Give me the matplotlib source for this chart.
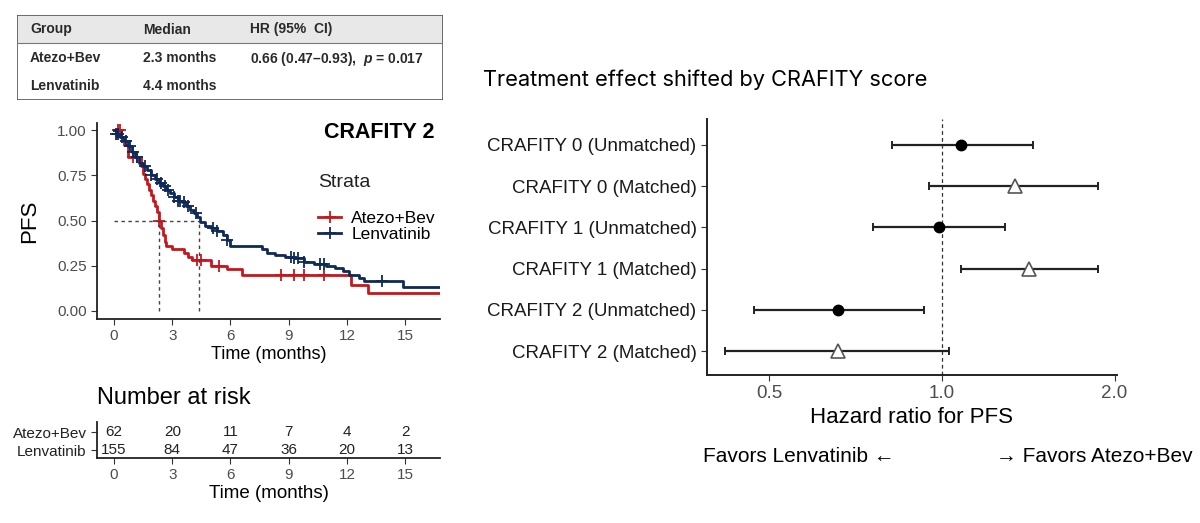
import numpy as np
import matplotlib
matplotlib.use('Agg')
import matplotlib.pyplot as plt
from matplotlib.lines import Line2D
from matplotlib.patches import Rectangle
from matplotlib.ticker import FixedLocator, NullLocator

plt.rcParams['font.family'] = ['Liberation Sans', 'DejaVu Sans']
plt.rcParams['mathtext.fontset'] = 'custom'
plt.rcParams['mathtext.it'] = 'Liberation Sans:italic:bold'

# ---- data ----
groups = ['Atezo+Bev', 'Lenvatinib']
medians = ['2.3 months', '4.4 months']
hr_text = '0.66 (0.47\u20130.93),  $p$ = 0.017'
median_time = [2.3, 4.4]

# Kaplan-Meier steps (time of drop, survival after drop)
red_t = [0.35, 0.5, 0.7, 1.4, 1.5, 1.6, 1.7, 1.8, 1.9, 2.0, 2.1, 2.2, 2.3, 2.4, 2.5,
         2.6, 2.7, 3.0, 3.6, 3.8, 4.0, 5.0, 5.8, 6.6, 12.2, 13.1]
red_s = [0.96, 0.92, 0.85, 0.80, 0.76, 0.73, 0.70, 0.67, 0.64, 0.61, 0.58, 0.55, 0.50, 0.46, 0.42,
         0.38, 0.36, 0.34, 0.32, 0.30, 0.28, 0.25, 0.23, 0.20, 0.145, 0.10]
blue_t = [0.1, 0.3, 0.5, 0.7, 0.9, 1.1, 1.3, 1.5, 1.7, 1.9, 2.1, 2.3, 2.5, 2.7, 2.9, 3.1, 3.3,
          3.5, 3.7, 3.9, 4.1, 4.3, 4.45, 4.7, 5.0, 5.3, 5.6, 5.8, 6.0, 7.6, 7.9, 8.3, 8.8,
          9.3, 9.8, 10.3, 10.9, 11.4, 11.8, 12.1, 12.6, 12.9, 14.9]
blue_s = [0.98, 0.96, 0.94, 0.91, 0.88, 0.85, 0.82, 0.80, 0.78, 0.75, 0.73, 0.71, 0.69, 0.67,
          0.65, 0.63, 0.61, 0.60, 0.58, 0.56, 0.54, 0.52, 0.49, 0.47, 0.46, 0.44, 0.42, 0.39,
          0.36, 0.34, 0.32, 0.31, 0.30, 0.29, 0.27, 0.26, 0.25, 0.24, 0.22, 0.20, 0.18, 0.166,
          0.134]
red_cens = [0.2, 0.3, 1.0, 1.2, 2.3, 4.3, 4.5, 5.4, 8.6, 9.3, 9.8, 10.8]
blue_cens = [0.1, 0.2, 0.4, 0.6, 0.8, 1.0, 1.2, 1.6, 1.9, 2.2, 2.4, 2.6, 2.8, 3.1, 3.3, 3.4,
             3.6, 3.8, 4.2, 5.1, 5.3, 5.8, 9.1, 9.3, 9.5, 9.8, 10.6, 10.8, 13.8]

risk_times = [0, 3, 6, 9, 12, 15]
risk_atezo = [62, 20, 11, 7, 4, 2]
risk_lenva = [155, 84, 47, 36, 20, 13]

# forest plot
forest_labels = ['CRAFITY 0 (Unmatched)', 'CRAFITY 0 (Matched)', 'CRAFITY 1 (Unmatched)',
                 'CRAFITY 1 (Matched)', 'CRAFITY 2 (Unmatched)', 'CRAFITY 2 (Matched)']
hr = [1.08, 1.34, 0.99, 1.42, 0.66, 0.66]
hr_lo = [0.82, 0.95, 0.76, 1.08, 0.47, 0.42]
hr_hi = [1.44, 1.87, 1.29, 1.87, 0.93, 1.03]
matched = [False, True, False, True, False, True]

RED = '#c8161d'
NAVY = '#0e2a5a'
W, H = 1200, 523


def box(x0, y0, x1, y1):
    # pixel box (top-left origin) -> figure fraction rect
    return [x0 / W, 1 - y1 / H, (x1 - x0) / W, (y1 - y0) / H]


fig = plt.figure(figsize=(12, 5.23), dpi=100)

# ---- summary table ----
ax_t = fig.add_axes(box(17, 15, 443, 100))
ax_t.set_xlim(0, 426)
ax_t.set_ylim(85, 0)
ax_t.axis('off')
ax_t.add_patch(Rectangle((0, 0), 426, 28, facecolor='#e8e8e8', edgecolor='none'))
ax_t.add_patch(Rectangle((0, 0), 426, 85, facecolor='none', edgecolor='#555555', lw=1.2))
ax_t.plot([0, 426], [28, 28], color='#777777', lw=0.8)
tkw = dict(fontsize=10, fontweight='bold', color='#2a2a2a', va='center')
ax_t.text(13, 14.5, 'Group', **tkw)
ax_t.text(126, 14.5, 'Median', **tkw)
ax_t.text(233, 14.5, 'HR (95%  CI)', **tkw)
for i, (g, m) in enumerate(zip(groups, medians)):
    ax_t.text(13, 43.5 + i * 28, g, **tkw)
    ax_t.text(126, 43.5 + i * 28, m, **tkw)
ax_t.text(233, 43.5, hr_text, **tkw)

# ---- KM curve ----
ax = fig.add_axes(box(97, 123, 440, 319))
for t, s, cens, col in [(red_t, red_s, red_cens, RED), (blue_t, blue_s, blue_cens, NAVY)]:
    tt = np.concatenate(([0.0], t, [16.8]))
    ss = np.concatenate(([1.0], s, [s[-1]]))
    ax.step(tt, ss, where='post', color=col, lw=2)
    idx = np.searchsorted(tt, cens, side='right') - 1
    ax.plot(cens, ss[idx], ls='none', marker='+', ms=8, mew=1.3, color=col)

ax.plot([0, median_time[1]], [0.5, 0.5], color='#444444', lw=1, ls=(0, (2.5, 2.5)))
for m in median_time:
    ax.plot([m, m], [0, 0.5], color='#444444', lw=1, ls=(0, (2.5, 2.5)))

ax.set_xlim(-0.88, 16.8)
ax.set_ylim(-0.045, 1.04)
ax.set_xticks([0, 3, 6, 9, 12, 15])
ax.set_yticks([0, 0.25, 0.5, 0.75, 1.0])
ax.set_yticklabels(['0.00', '0.25', '0.50', '0.75', '1.00'])
ax.tick_params(labelsize=11, colors='#333333', labelcolor='#4d4d4d', length=4)
for sp in ['top', 'right']:
    ax.spines[sp].set_visible(False)
for sp in ['left', 'bottom']:
    ax.spines[sp].set_linewidth(1.3)
    ax.spines[sp].set_color('#222222')
ax.set_xlabel('Time (months)', fontsize=13, labelpad=2)
ax.set_ylabel('PFS', fontsize=16, labelpad=12)
ax.text(0.985, 0.95, 'CRAFITY 2', transform=ax.transAxes, ha='right', va='center',
        fontsize=15.5, fontweight='bold')
ax.text(0.644, 0.694, 'Strata', transform=ax.transAxes, ha='left', va='center', fontsize=14,
        color='#222222')
handles = [Line2D([], [], color=RED, lw=2, marker='+', ms=8, mew=1.3),
           Line2D([], [], color=NAVY, lw=2, marker='+', ms=8, mew=1.3)]
ax.legend(handles, groups, loc='upper left', bbox_to_anchor=(0.6, 0.63),
          frameon=False, fontsize=12.5, handlelength=1.3,
          handletextpad=0.6, labelspacing=0.05)

# ---- number at risk ----
ax_r = fig.add_axes(box(97, 422, 440, 458))
ax_r.set_xlim(-0.88, 16.8)
ax_r.set_ylim(0, 1)
for t, a, l in zip(risk_times, risk_atezo, risk_lenva):
    ax_r.text(t, 0.72, str(a), ha='center', va='center', fontsize=11, color='#222222')
    ax_r.text(t, 0.22, str(l), ha='center', va='center', fontsize=11, color='#222222')
ax_r.set_yticks([0.72, 0.22])
ax_r.set_yticklabels(groups)
ax_r.set_xticks(risk_times)
ax_r.tick_params(labelsize=11, colors='#333333', labelcolor='#222222', length=4)
ax_r.tick_params(axis='x', labelcolor='#4d4d4d')
for sp in ['top', 'right']:
    ax_r.spines[sp].set_visible(False)
for sp in ['left', 'bottom']:
    ax_r.spines[sp].set_linewidth(1.3)
    ax_r.spines[sp].set_color('#222222')
ax_r.set_xlabel('Time (months)', fontsize=13.5, labelpad=2)
fig.text(97 / W, 1 - 398 / H, 'Number at risk', fontsize=17, va='center', ha='left')

# ---- forest plot ----
axf = fig.add_axes(box(707, 119, 1117, 375))
ypos = np.arange(len(hr), 0, -1)
axf.axvline(1.0, color='#333333', lw=0.9, ls=(0, (3, 2.5)))
for y, h, lo, hi, m in zip(ypos, hr, hr_lo, hr_hi, matched):
    axf.errorbar(h, y, xerr=[[h - lo], [hi - h]], fmt='none', ecolor='#222222',
                 elinewidth=1.6, capsize=3, capthick=1.4)
    if m:
        axf.plot(h, y, marker='^', ms=10, mfc='white', mec='#555555', mew=1.2, ls='none')
    else:
        axf.plot(h, y, marker='o', ms=7.5, color='black', ls='none')
axf.set_xscale('log', base=2)
axf.set_xlim(0.39, 2.02)
axf.set_ylim(0.42, 6.63)
axf.xaxis.set_major_locator(FixedLocator([0.5, 1.0, 2.0]))
axf.xaxis.set_minor_locator(NullLocator())
axf.set_xticklabels(['0.5', '1.0', '2.0'])
axf.set_yticks(ypos)
axf.set_yticklabels(forest_labels)
axf.tick_params(axis='y', labelsize=13.5, colors='#333333', labelcolor='#1a1a1a', length=4)
axf.tick_params(axis='x', labelsize=13.5, colors='#333333', labelcolor='#4d4d4d', length=4)
for sp in ['top', 'right']:
    axf.spines[sp].set_visible(False)
for sp in ['left', 'bottom']:
    axf.spines[sp].set_linewidth(1.4)
    axf.spines[sp].set_color('#222222')
axf.set_xlabel('Hazard ratio for PFS', fontsize=16, labelpad=3)

fig.text(483 / W, 1 - 80 / H, 'Treatment effect shifted by CRAFITY score', fontsize=15.7,
         va='center', ha='left', family=['Inter', 'DejaVu Sans'])
fig.text(703 / W, 1 - 457 / H, 'Favors Lenvatinib \u2190', fontsize=15, va='center', ha='left')
fig.text(1193 / W, 1 - 457 / H, '\u2192 Favors Atezo+Bev', fontsize=15, va='center', ha='right')

fig.savefig('out.png', dpi=100)
